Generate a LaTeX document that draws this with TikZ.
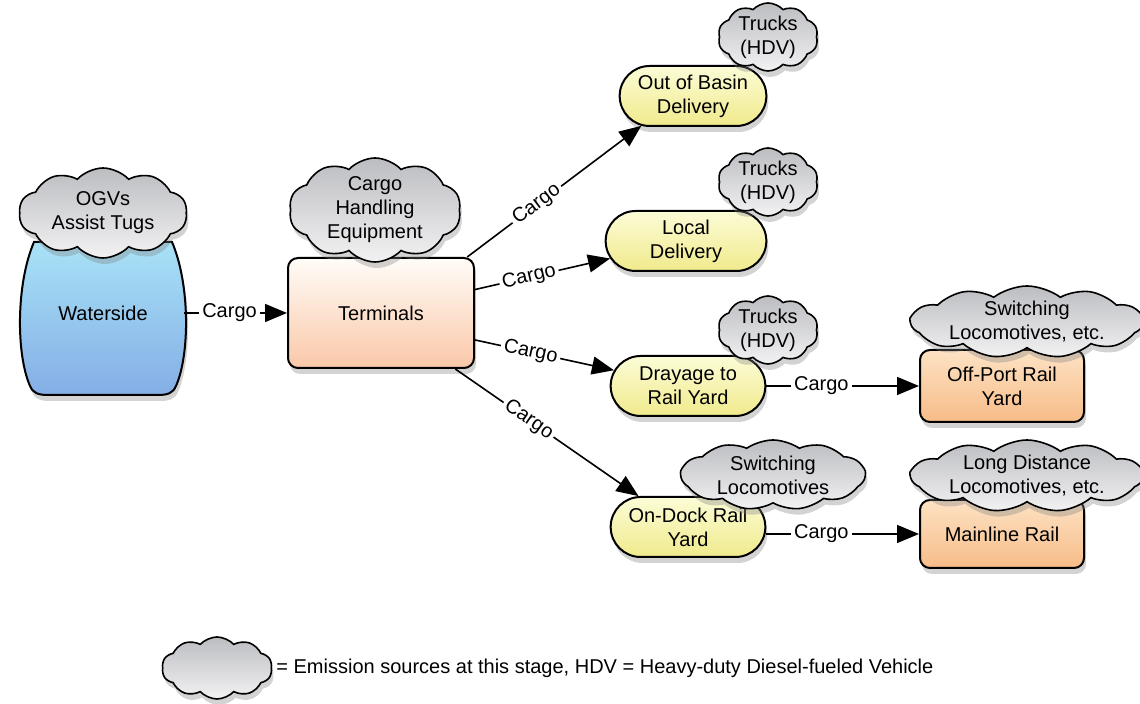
\documentclass[tikz,border=0pt]{standalone}
\usepackage{fontspec}
\setmainfont{Liberation Sans}
\usetikzlibrary{shapes.misc,shapes.symbols,shadows,arrows.meta}

\definecolor{cloudtop}{RGB}{188,189,193}
\definecolor{cloudbot}{RGB}{242,242,243}
\definecolor{pilltop}{RGB}{252,252,215}
\definecolor{pillbot}{RGB}{240,234,140}
\definecolor{termtop}{RGB}{255,252,248}
\definecolor{termbot}{RGB}{250,200,168}
\definecolor{railtop}{RGB}{253,226,196}
\definecolor{railbot}{RGB}{247,188,136}
\definecolor{watertop}{RGB}{168,226,246}
\definecolor{waterbot}{RGB}{132,174,230}

\tikzset{
  shade/.style={drop shadow={shadow xshift=1pt,shadow yshift=-3pt,opacity=0.35}},
  stage/.style={rounded rectangle, draw, line width=1pt, top color=pilltop,
    bottom color=pillbot, minimum height=30pt, align=center, shade},
  yard/.style={rectangle, rounded corners=5pt, draw, line width=1pt, top color=railtop,
    bottom color=railbot, minimum width=82pt, align=center, shade},
  emission/.style={cloud, cloud puffs=10, cloud puff arc=95, cloud ignores aspect,
    draw, line width=0.8pt, top color=cloudtop, bottom color=cloudbot, align=center,
    inner xsep=-30pt, inner ysep=-30pt, shade},
  widecloud/.style={emission, cloud puffs=11, cloud puff arc=75,
    minimum width=116pt, minimum height=36pt},
  flow/.style={line width=0.8pt, -{Triangle[length=11pt,width=9pt]}},
  cargo/.style={fill=white, inner sep=1.5pt, sloped, pos=0.4}
}

\begin{document}
\begin{tikzpicture}[x=0.5pt, y=0.5pt, font=\fontsize{10pt}{12pt}\selectfont]
\useasboundingbox (0,0) rectangle (1140,704);
%\draw[step=100,gray,very thin] (0,0) grid (1140,704);

% waterside tub
\path[draw, line width=1pt, top color=watertop, bottom color=waterbot, shade]
  (34,462) .. controls (16,420) and (16,350) .. (30,318)
  .. controls (33,311) and (38,309) .. (48,309) -- (158,309)
  .. controls (168,309) and (173,311) .. (176,318)
  .. controls (190,350) and (190,420) .. (172,462) -- cycle;
\node[minimum width=81pt, minimum height=60pt] (water) at (103,391) {Waterside};

% terminals and the stages after it
\node[rectangle, rounded corners=5pt, draw, line width=1pt, top color=termtop,
  bottom color=termbot, minimum width=93pt, minimum height=55pt, shade]
  (term) at (381,391) {Terminals};
\node[stage, minimum width=80pt] (basin) at (693,608) {Out of Basin\\Delivery};
\node[stage, minimum width=87pt] (local) at (686,463) {Local\\Delivery};
\node[stage, minimum width=84pt] (dray) at (688,318) {Drayage to\\Rail Yard};
\node[stage, minimum width=84pt] (dock) at (688,177) {On-Dock Rail\\Yard};
\node[yard, minimum height=36pt] (offport) at (1002,318) {Off-Port Rail\\Yard};
\node[yard, minimum height=34pt] (mainline) at (1002,170) {Mainline Rail};

% cargo flows
\draw[flow] (water.east) -- node[cargo, pos=0.44] {Cargo} (term.west);
\draw[flow] (term.33) -- node[cargo] {Cargo} (basin.210);
\draw[flow] (term.14) -- node[cargo] {Cargo} (local.193);
\draw[flow] (term.-16) -- node[cargo] {Cargo} (dray.168);
\draw[flow] (term.-37) -- node[cargo] {Cargo} (dock.148);
\draw[flow] (dray.east) -- node[cargo, pos=0.36] {Cargo} (offport.west);
\draw[flow] (dock.east |- mainline.west) -- node[cargo, pos=0.36] {Cargo} (mainline.west);

% emission clouds
\node[emission, minimum width=84pt, minimum height=45pt] (ogv) at (103,491) {OGVs\\Assist Tugs};
\node[emission, minimum width=86pt, minimum height=52pt] (che) at (375,494) {Cargo\\Handling\\Equipment};
\node[emission, minimum width=50pt, minimum height=34pt] (truckA) at (768,667) {Trucks\\(HDV)};
\node[emission, minimum width=50pt, minimum height=34pt] (truckB) at (768,522) {Trucks\\(HDV)};
\node[emission, minimum width=50pt, minimum height=34pt] (truckC) at (768,374) {Trucks\\(HDV)};
\node[widecloud, cloud puff arc=70, minimum width=92pt, minimum height=35pt] (switchA) at (773,229) {Switching\\Locomotives};
\node[widecloud] (switchB) at (1027,382) {Switching\\Locomotives, etc.};
\node[widecloud] (longdist) at (1027,228) {Long Distance\\Locomotives, etc.};

% legend
\node[emission, minimum width=55pt, minimum height=31pt] (key) at (217,36) {};
\node[anchor=west, inner sep=0pt] (keytext) at (276,36)
  {= Emission sources at this stage, HDV = Heavy-duty Diesel-fueled Vehicle};
\end{tikzpicture}
\end{document}
